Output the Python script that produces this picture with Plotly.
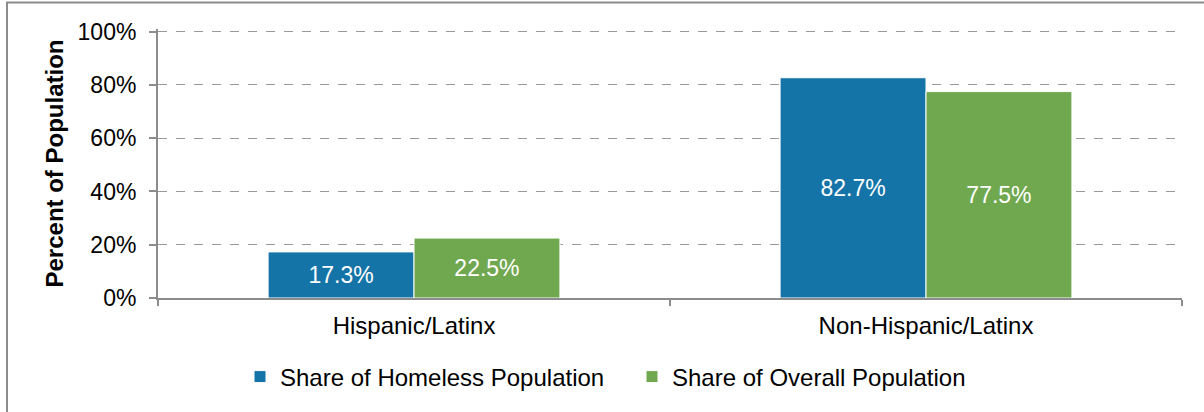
import plotly.graph_objects as go

categories = ["Hispanic/Latinx", "Non-Hispanic/Latinx"]
homeless = [17.3, 82.7]
overall = [22.5, 77.5]
series_names = ["Share of Homeless Population", "Share of Overall Population"]
y_ticks = [0, 20, 40, 60, 80, 100]
y_tick_labels = ["0%", "20%", "40%", "60%", "80%", "100%"]

W, H = 1204, 412
YMAX = 101
bottom_px, top100_px = 298, 32
ph_f = (bottom_px - top100_px) * YMAX / 100
L, R = 158, 22
T = round(bottom_px - ph_f)
B = H - bottom_px
pw, ph = W - L - R, H - T - B

FONT = "Liberation Sans, Arial, sans-serif"

fig = go.Figure()
for i, (name, vals, col) in enumerate([(series_names[0], homeless, "#1474A8"),
                                       (series_names[1], overall, "#70A850")]):
    fig.add_trace(go.Bar(
        x=categories, y=vals, name=name,
        marker=dict(color=col, line=dict(color="white", width=1)),
        text=[f"{v:.1f}%" for v in vals],
        textposition="inside", insidetextanchor="middle",
        textfont=dict(color="white", size=23, family=FONT),
        cliponaxis=False,
        legend="legend" if i == 0 else "legend2",
    ))

leg_y = (T + ph - 377) / ph
fig.update_layout(
    width=W, height=H,
    margin=dict(l=L, r=R, t=T, b=B, autoexpand=False),
    paper_bgcolor="white", plot_bgcolor="white",
    barmode="group", bargap=0.43, bargroupgap=0,
    font=dict(family=FONT, size=23, color="black"),
    legend=dict(orientation="h", x=(240 - L) / pw, xanchor="left",
                y=leg_y, yanchor="middle", bgcolor="rgba(0,0,0,0)",
                font=dict(size=24), itemwidth=30),
    legend2=dict(orientation="h", x=(632 - L) / pw, xanchor="left",
                 y=leg_y, yanchor="middle", bgcolor="rgba(0,0,0,0)",
                 font=dict(size=24), itemwidth=30),
    showlegend=True,
)
fig.update_yaxes(
    range=[0, YMAX], tickvals=y_ticks, ticktext=y_tick_labels,
    showgrid=True, gridcolor="#999999", griddash="dash", gridwidth=1,
    showline=True, linecolor="#8c8c8c", linewidth=2,
    ticks="outside", ticklen=7, tickcolor="#8c8c8c", tickwidth=2,
    ticklabelstandoff=8,
    zeroline=False,
    title=dict(text="<b>Percent of Population</b>", font=dict(size=24), standoff=7),
    tickfont=dict(size=23),
)
fig.update_xaxes(
    showline=True, linecolor="#8c8c8c", linewidth=2,
    ticks="outside", ticklen=6, tickcolor="#8c8c8c", tickwidth=2,
    ticklabelstandoff=5,
    tickson="boundaries", tickfont=dict(size=24),
)
# outer chart border
fig.add_shape(type="rect", xref="paper", yref="paper",
              x0=(7 - L) / pw, x1=(1212 - L) / pw,
              y0=(T + ph - 420) / ph, y1=(T + ph - 2.5) / ph,
              line=dict(color="#8c8c8c", width=2), layer="below")

fig.write_html("out.html", config={"displayModeBar": False},
               post_script="document.body.style.margin='0';")
